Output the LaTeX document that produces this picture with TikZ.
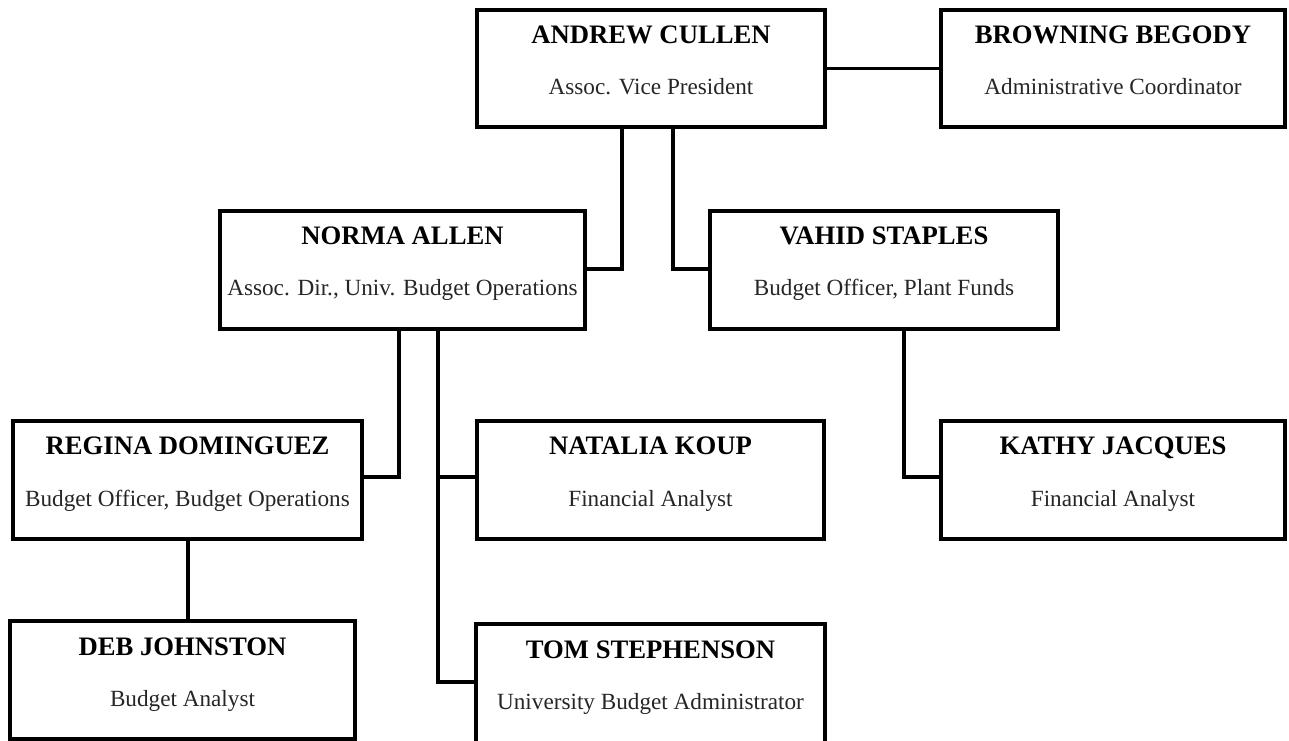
\documentclass[tikz,border=0pt]{standalone}
\usepackage{fontspec}
\setmainfont{Liberation Serif}
\usetikzlibrary{calc}

% One staff card: a framed box with the person's name and role.
% #1 node name, #2..#5 left/top/right/bottom, #6 name, #7 role
\newcommand\orgcard[7]{%
  \node[card, minimum width={(#4-#2)*0.75pt}, minimum height={(#5-#3)*0.75pt}]
    (#1) at ({(#2+#4)/2},{(#3+#5)/2}) {};
  \node[who]  (#1-name) at ($(#1.north)+(0,34)$) {#6};
  \node[role] (#1-role) at ($(#1.north)+(0,85)$) {#7};
}

\begin{document}
\begin{tikzpicture}[x=0.75pt,y=-0.75pt,
  card/.style={draw=black, line width=3pt, rectangle, inner sep=0pt, outer sep=0pt, fill=white},
  who/.style={anchor=base, inner sep=0pt, font=\bfseries\fontsize{20}{24}\selectfont},
  role/.style={anchor=base, inner sep=0pt, font=\fontsize{17.4}{21}\selectfont, text=black!85},
  link/.style={draw=black, line width=2.6pt, line join=miter}]

\useasboundingbox (0,0) rectangle (1289,741);

% connector joints
\coordinate (jA) at (622,269);
\coordinate (jB) at (673,269);
\coordinate (jC) at (399,477);
\coordinate (jD) at (438,477);
\coordinate (jE) at (438,682);
\coordinate (jF) at (904,477);
\coordinate (jG) at (188,600);

% staff cards
\orgcard{cullen}{477}{10}{825}{127}{ANDREW CULLEN}{Assoc. Vice President}
\orgcard{begody}{941}{10}{1285}{127}{BROWNING BEGODY}{Administrative Coordinator}
\orgcard{allen}{220}{211}{585}{329}{NORMA ALLEN}{Assoc. Dir., Univ. Budget Operations}
\orgcard{staples}{710}{211}{1058}{329}{VAHID STAPLES}{Budget Officer, Plant Funds}
\orgcard{dominguez}{13}{421}{362}{539}{REGINA DOMINGUEZ}{Budget Officer, Budget Operations}
\orgcard{koup}{477}{421}{824}{539}{NATALIA KOUP}{Financial Analyst}
\orgcard{jacques}{941}{421}{1285}{539}{KATHY JACQUES}{Financial Analyst}
\orgcard{johnston}{10}{621}{355}{739}{DEB JOHNSTON}{Budget Analyst}
\orgcard{stephenson}{476}{624}{825}{744}{TOM STEPHENSON}{University Budget Administrator}

% reporting lines
\draw[link] (cullen.east) -- (begody.west);
\draw[link] (cullen.south -| jA) -- (jA) -- (allen.east |- jA);
\draw[link] (cullen.south -| jB) -- (jB) -- (staples.west |- jB);
\draw[link] (allen.south -| jC) -- (jC) -- (dominguez.east |- jC);
\draw[link] (allen.south -| jD) -- (jE) -- (stephenson.west |- jE);
\draw[link] (jD) -- (koup.west |- jD);
\draw[link] (staples.south -| jF) -- (jF) -- (jacques.west |- jF);
\draw[link] (dominguez.south -| jG) -- (johnston.north -| jG);

\end{tikzpicture}
\end{document}
